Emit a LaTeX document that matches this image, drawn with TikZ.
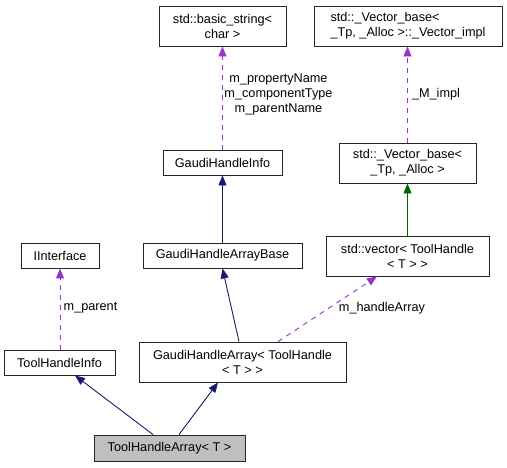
\documentclass[tikz,border=0pt]{standalone}
\usepackage{fontspec}
\setmainfont{Liberation Sans}
\usetikzlibrary{arrows.meta}
\definecolor{navy}{HTML}{191970}
\definecolor{purp}{HTML}{9A32CD}
\definecolor{dgreen}{HTML}{006400}
\begin{document}
\begin{tikzpicture}[x=1pt,y=-1pt,
  txt/.style={font=\fontsize{12.7}{15}\selectfont},
  box/.style={txt,draw=black!85,line width=0.9pt,fill=white,inner sep=0pt,align=center},
  inh/.style={draw=navy,line width=0.9pt,-{Triangle[length=10pt,width=8pt]}},
  pub/.style={draw=dgreen,line width=0.9pt,-{Triangle[length=10pt,width=8pt]}},
  use/.style={draw=purp,line width=0.9pt,dash pattern=on 5pt off 5pt,-{Triangle[length=10pt,width=8pt]}},
  lbl/.style={txt,inner sep=0pt,align=center}]
\useasboundingbox (0,0) rectangle (507,467);
\node[box,minimum width=127pt,minimum height=40pt] (bs) at (222.5,26) {std::basic\_string<\\char >};
\node[box,minimum width=188pt,minimum height=40pt,align=left] (impl) at (408,26) {std::\_Vector\_base<\\\_Tp, \_Alloc >::\_Vector\_impl};
\node[box,minimum width=119pt,minimum height=25pt] (ghi) at (222.5,162.5) {GaudiHandleInfo};
\node[box,minimum width=137pt,minimum height=40pt] (vb) at (407.5,163) {std::\_Vector\_base<\\\_Tp, \_Alloc >};
\node[box,minimum width=78pt,minimum height=25pt] (iif) at (60,255.5) {IInterface};
\node[box,minimum width=159pt,minimum height=25pt] (ghab) at (222.5,255.5) {GaudiHandleArrayBase};
\node[box,minimum width=163pt,minimum height=40pt] (vec) at (407.5,256) {std::vector< ToolHandle\\< T > >};
\node[box,minimum width=111pt,minimum height=25pt] (thi) at (59.5,362.5) {ToolHandleInfo};
\node[box,minimum width=207pt,minimum height=40pt] (gha) at (242.5,362) {GaudiHandleArray< ToolHandle\\< T > >};
\node[box,fill=black!25,minimum width=151pt,minimum height=26pt] (tha) at (169.5,448) {ToolHandleArray< T >};
% connectors
\draw[inh] ([xshift=-16.5pt]tha.north) -- ([xshift=15.5pt]thi.south);
\draw[inh] ([xshift=9.5pt]tha.north) -- ([xshift=-24.5pt]gha.south);
\draw[inh] ([xshift=-3.5pt]gha.north) -- (ghab.south);
\draw[inh] (ghab.north) -- (ghi.south);
\draw[use] (ghi.north) -- (bs.south);
\draw[use] ([xshift=0.5pt]thi.north) -- (iif.south);
\draw[use] ([xshift=35.5pt]gha.north) -- ([xshift=-30.5pt]vec.south);
\draw[pub] (vec.north) -- (vb.north |- vb.south);
\draw[use] (vb.north) -- ([xshift=-0.5pt]impl.south);
% labels
\node[lbl] (l1) at (278.5,94) {m\_propertyName\\m\_componentType\\m\_parentName};
\node[lbl] (l2) at (436,94) {\_M\_impl};
\node[lbl] (l3) at (90.5,308) {m\_parent};
\node[lbl] (l4) at (382,308) {m\_handleArray};
\end{tikzpicture}
\end{document}
